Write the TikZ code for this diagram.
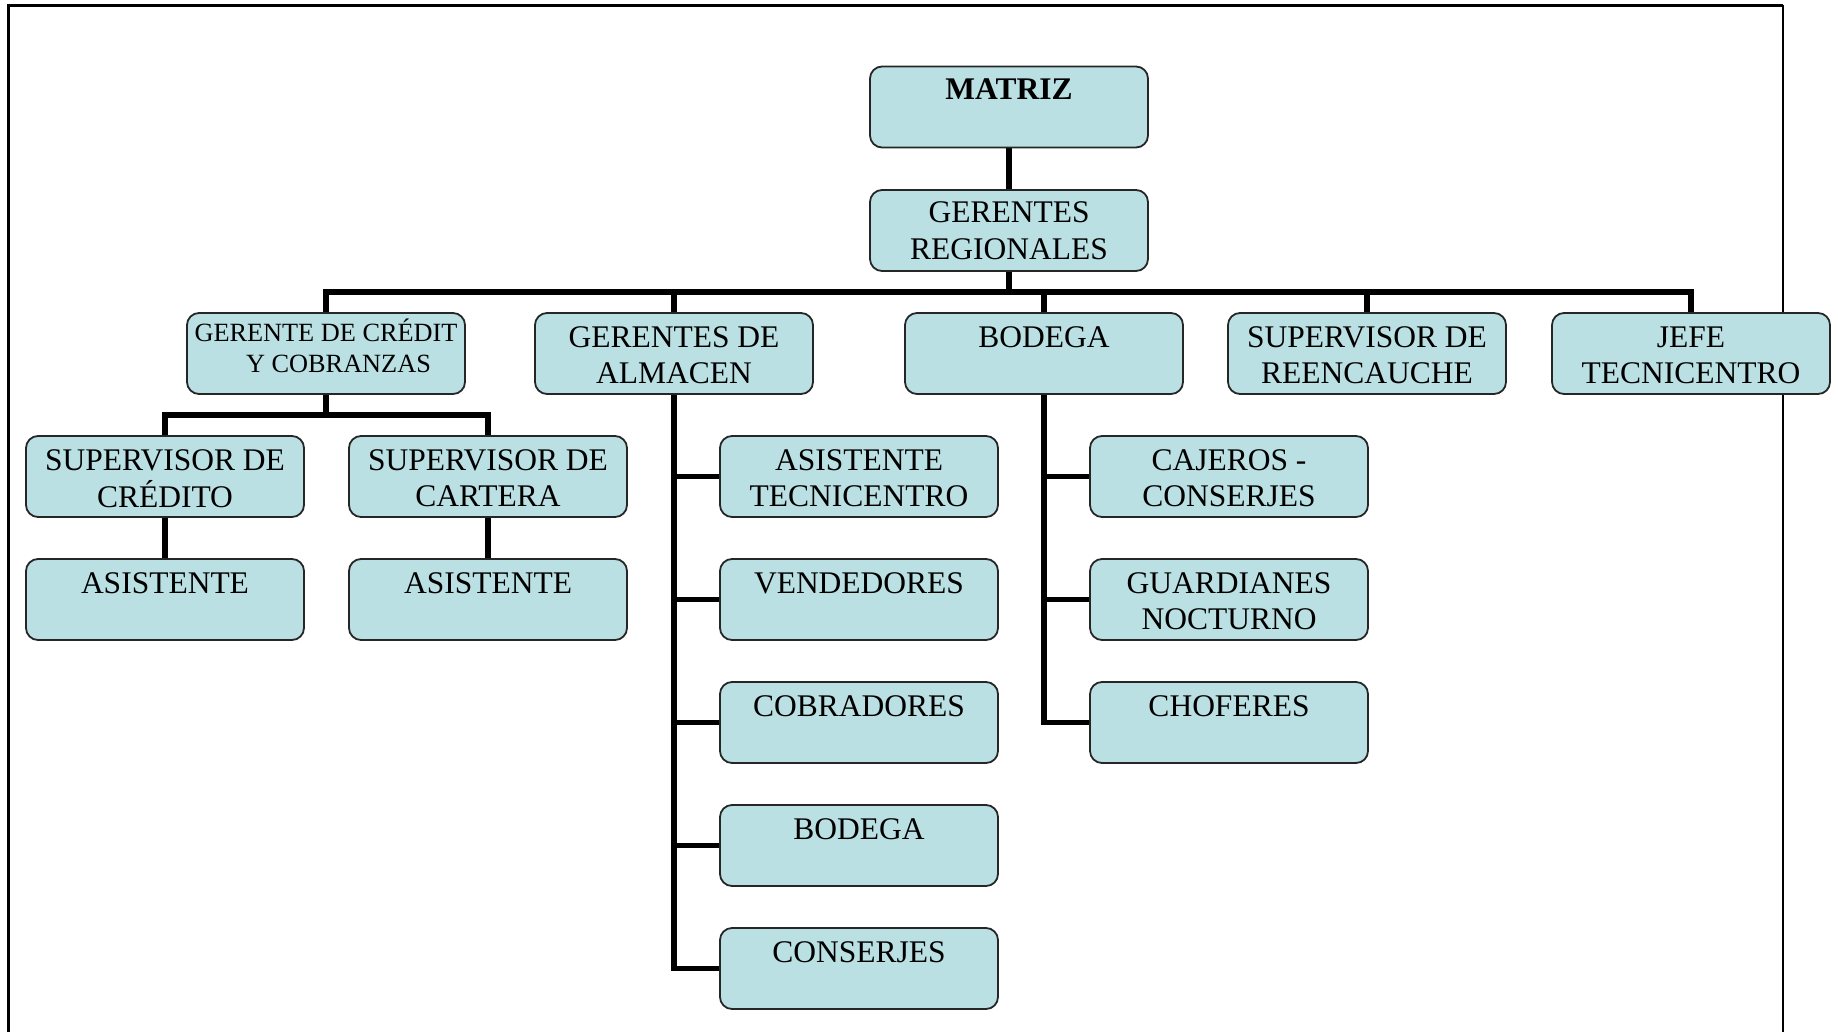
\documentclass[tikz,border=0pt]{standalone}
\usepackage{fontspec}
\setmainfont{Liberation Serif}
\usetikzlibrary{backgrounds}
\definecolor{boxfill}{RGB}{186,224,227}
\newcommand\lines[1]{\begin{tabular}[t]{@{}c@{}}#1\end{tabular}}
\begin{document}
\begin{tikzpicture}[x=1pt,y=-1pt,
  box/.style={draw=black!85, line width=1.8pt, fill=boxfill, rounded corners=12pt,
    minimum width=278pt, minimum height=81pt, inner sep=0pt},
  txt/.style={anchor=base, inner sep=0pt, font=\fontsize{31.5}{36.5}\selectfont},
  smalltxt/.style={anchor=base, inner sep=0pt, font=\fontsize{26.3}{31}\selectfont},
  conn/.style={line width=5.5pt, line join=miter},
  frameline/.style={line width=3pt}]
\useasboundingbox (0,0) rectangle (1838,1032);
% frame
\draw[frameline] (8.5,1032) -- (8.5,5.5) -- (1783,5.5);
\draw[line width=2pt] (1783,5.5) -- (1783,1032);

% boxes
\node[box] (matriz) at (1009,107) {};
\node[box] (ger) at (1009,230.5) {};
\node[box] (cred) at (326,353.5) {};
\node[box] (alm) at (674,353.5) {};
\node[box] (bod) at (1044,353.5) {};
\node[box] (reen) at (1367,353.5) {};
\node[box] (jefe) at (1691,353.5) {};
\node[box] (supcred) at (165,476.5) {};
\node[box] (supcart) at (488,476.5) {};
\node[box] (asis1) at (165,599.5) {};
\node[box] (asis2) at (488,599.5) {};
\node[box] (asistec) at (859,476.5) {};
\node[box] (vend) at (859,599.5) {};
\node[box] (cobr) at (859,722.5) {};
\node[box] (bod2) at (859,845.5) {};
\node[box] (cons) at (859,968.5) {};
\node[box] (caj) at (1229,476.5) {};
\node[box] (guar) at (1229,599.5) {};
\node[box] (chof) at (1229,722.5) {};

% texts
\node[txt] (t-matriz) at (1009,100) {\bfseries MATRIZ};
\node[txt] (t-ger) at (1009,223) {\lines{GERENTES\\REGIONALES}};
\node[smalltxt] (t-cred) at (326,341) {\lines{GERENTE DE CRÉDIT\\\hspace{25pt}Y COBRANZAS}};
\node[txt] (t-alm) at (674,347) {\lines{GERENTES DE\\ALMACEN}};
\node[txt] (t-bod) at (1044,347) {BODEGA};
\node[txt] (t-reen) at (1367,347) {\lines{SUPERVISOR DE\\REENCAUCHE}};
\node[txt] (t-jefe) at (1691,347) {\lines{JEFE\\TECNICENTRO}};
\node[txt] (t-supcred) at (165,470) {\lines{SUPERVISOR DE\\CRÉDITO}};
\node[txt] (t-supcart) at (488,470) {\lines{SUPERVISOR DE\\CARTERA}};
\node[txt] (t-asis1) at (165,593) {ASISTENTE};
\node[txt] (t-asis2) at (488,593) {ASISTENTE};
\node[txt] (t-asistec) at (859,470) {\lines{ASISTENTE\\TECNICENTRO}};
\node[txt] (t-vend) at (859,593) {VENDEDORES};
\node[txt] (t-cobr) at (859,716) {COBRADORES};
\node[txt] (t-bod2) at (859,839) {BODEGA};
\node[txt] (t-cons) at (859,962) {CONSERJES};
\node[txt] (t-caj) at (1229,470) {\lines{CAJEROS -\\CONSERJES}};
\node[txt] (t-guar) at (1229,593) {\lines{GUARDIANES\\NOCTURNO}};
\node[txt] (t-chof) at (1229,716) {CHOFERES};

% connectors
\coordinate (bus) at (0,292);
\coordinate (bus2) at (0,415);
\begin{scope}[on background layer]
\draw[conn] (matriz.south) -- (ger.north);
\draw[conn] (ger.south) -- (ger.south |- bus);
\draw[conn] (cred.north) -- (cred.north |- bus) -- (jefe.north |- bus) -- (jefe.north);
\draw[conn] (alm.north) -- (alm.north |- bus);
\draw[conn] (bod.north) -- (bod.north |- bus);
\draw[conn] (reen.north) -- (reen.north |- bus);
\draw[conn] (cred.south) -- (cred.south |- bus2);
\draw[conn] (supcred.north) -- (supcred.north |- bus2) -- (supcart.north |- bus2) -- (supcart.north);
\draw[conn] (supcred.south) -- (asis1.north);
\draw[conn] (supcart.south) -- (asis2.north);
\draw[conn] (alm.south) |- (cons.west);
\draw[conn] (asistec.west) -- (asistec.west -| alm.south);
\draw[conn] (vend.west) -- (vend.west -| alm.south);
\draw[conn] (cobr.west) -- (cobr.west -| alm.south);
\draw[conn] (bod2.west) -- (bod2.west -| alm.south);
\draw[conn] (bod.south) |- (chof.west);
\draw[conn] (caj.west) -- (caj.west -| bod.south);
\draw[conn] (guar.west) -- (guar.west -| bod.south);
\end{scope}
\end{tikzpicture}
\end{document}
